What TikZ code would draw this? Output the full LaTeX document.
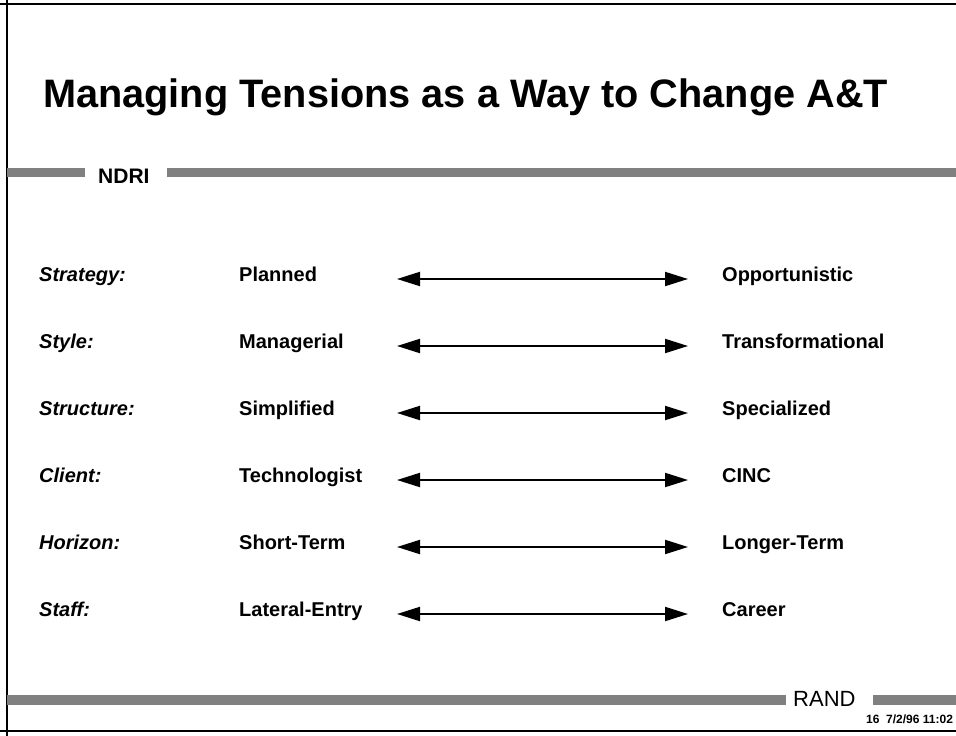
\documentclass[tikz,border=0pt]{standalone}
\usepackage{fontspec}
\setmainfont{Liberation Sans}
\usetikzlibrary{arrows.meta,positioning}

\begin{document}
\begin{tikzpicture}[
    x=1pt, y=-1pt,
    band/.style={fill=black!50, draw=none},
    frameline/.style={line width=2pt},
    title/.style={anchor=base west, inner sep=0pt, font=\fontsize{39.7}{44}\selectfont\bfseries},
    tag/.style={anchor=base west, inner sep=0pt},
    rowlabel/.style={anchor=base west, inner sep=0pt, font=\fontsize{20}{24}\selectfont\bfseries\itshape},
    value/.style={anchor=base west, inner sep=0pt, font=\fontsize{20}{24}\selectfont\bfseries},
    pullarrow/.style={{Triangle[length=23pt,width=14pt]}-{Triangle[length=23pt,width=14pt]}, line width=2pt}
]
\useasboundingbox (0,0) rectangle (956,736);

% Frame
\draw[frameline] (7,0) -- (7,736);
\draw[frameline] (0,4) -- (956,4);
\draw[frameline] (0,731) -- (956,731);

% Title
\node[title] (title) at (43,107) {Managing Tensions as a Way to Change A\&T};

% NDRI bar
\fill[band] (7,168) rectangle (85,177);
\node[tag, font=\fontsize{21}{24}\selectfont\bfseries] (ndri) at (98,183) {NDRI};
\fill[band] (167,168) rectangle (956,177);

% Rows of tensions
\foreach \lab/\lo/\hi [count=\i] in {Strategy/Planned/Opportunistic,
        Style/Managerial/Transformational, Structure/Simplified/Specialized,
        Client/Technologist/CINC, Horizon/Short-Term/Longer-Term,
        Staff/Lateral-Entry/Career} {
    \pgfmathsetmacro{\yb}{281+67*(\i-1)}
    \node[rowlabel] (lbl\i) at (39,\yb) {\lab:};
    \node[value] (lo\i) at (239,\yb) {\lo};
    \node[value] (hi\i) at (722,\yb) {\hi};
    \coordinate (a\i) at (397,\yb-2);
    \coordinate (b\i) at (688,\yb-2);
    \draw[pullarrow] (a\i) -- (b\i);
}

% RAND bar
\fill[band] (7,695) rectangle (786,705);
\node[tag, font=\fontsize{22}{24}\selectfont] (rand) at (793,706) {RAND};
\fill[band] (873,695) rectangle (956,705);
\node[tag, font=\fontsize{12}{14}\selectfont\bfseries] (date) at (866,723) {16\ \ 7/2/96 11:02};

\end{tikzpicture}
\end{document}
